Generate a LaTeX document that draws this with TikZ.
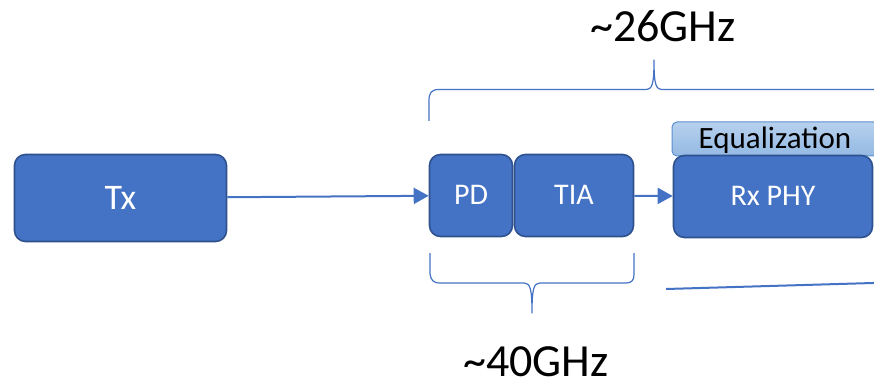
\documentclass[tikz,border=0pt]{standalone}
\usepackage{fontspec}
\setmainfont{Carlito}
\usetikzlibrary{arrows.meta}
\definecolor{boxfill}{HTML}{4472C4}
\definecolor{boxline}{HTML}{2F528F}
\definecolor{eqtop}{HTML}{B7D1EE}
\definecolor{eqbot}{HTML}{94B9E3}
\definecolor{eqline}{HTML}{5B8FD0}
\newcommand\fsz[1]{\fontsize{#1}{#1}\selectfont}
\begin{document}
\begin{tikzpicture}[x=1pt,y=-1pt,
  blk/.style={draw=boxline, fill=boxfill, line width=1.6pt, rounded corners=11pt,
    inner sep=0pt, text=white, font=\fsz{30}, text height=19pt, text depth=0pt},
  eqbox/.style={draw=eqline, top color=eqtop, bottom color=eqbot, line width=1pt,
    rounded corners=5pt, inner sep=0pt, text=black, font=\fsz{31}, text height=20pt, text depth=0pt},
  conn/.style={draw=boxfill, line width=2pt},
  arr/.style={conn, -{Triangle[length=15pt,width=16pt]}},
  brace/.style={draw=boxfill, line width=1.2pt, line join=round},
  lbl/.style={anchor=base, inner sep=0pt, font=\fsz{46}, text=black, text depth=0pt}]
\useasboundingbox (0,0) rectangle (874,387);
\fill[white] (0,0) rectangle (874,387);

% blocks
\node[blk, font=\fsz{36}, text height=23pt, minimum width=212pt, minimum height=87pt] (tx) at (120.5,198) {Tx};
\node[blk, minimum width=83pt, minimum height=82pt] (pd) at (471,195.5) {PD};
\node[blk, minimum width=119pt, minimum height=82pt] (tia) at (574,195.5) {TIA};
\node[eqbox, minimum width=206pt, minimum height=34pt] (eq) at (775,139) {Equalization};
\node[blk, minimum width=199pt, minimum height=82pt] (rx) at (773,196.5) {Rx PHY};

% connectors
\draw[arr] (tx) -- (pd);
\draw[arr] (tia) -- (rx);

% top brace
\draw[brace] (429,121) -- (429,101) .. controls (429,93) and (431,89.5) .. (439,89.5)
  -- (645,89.5) .. controls (652,89.5) and (654,86) .. (654,60)
  .. controls (654,86) and (656,89.5) .. (663,89.5) -- (890,89.5);
\node[lbl] (f26) at (663,42) {\textasciitilde26GHz};

% bottom brace
\draw[brace] (430,253) -- (430,274) .. controls (431,280) and (433,283) .. (440,283)
  -- (524,283) .. controls (530,283) and (532,288) .. (532,313)
  .. controls (532,288) and (534,283) .. (540,283)
  -- (626,283) .. controls (632,283) and (634,280) .. (634,274) -- (634,253);
\node[lbl] (f40) at (536,376) {\textasciitilde40GHz};

% bottom right line
\coordinate (la) at (666,289);
\coordinate (lb) at (880,282.8);
\draw[conn] (la) -- (lb);
\end{tikzpicture}
\end{document}
